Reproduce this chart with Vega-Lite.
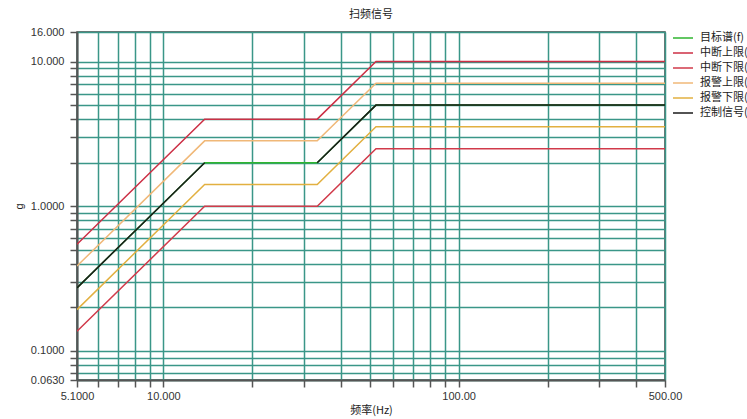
{
  "$schema": "https://vega.github.io/schema/vega-lite/v6.json",
  "width": 588,
  "height": 348,
  "autosize": {"type": "none"},
  "padding": {"left": 77, "top": 32, "right": 82, "bottom": 39},
  "background": "white",
  "title": {"text": "扫频信号", "fontSize": 11, "fontWeight": "normal", "color": "#222", "font": "Noto Sans CJK SC", "offset": 6, "anchor": "middle"},
  "config": {
    "font": "Liberation Sans",
    "view": {"stroke": "#444", "strokeWidth": 1.5},
    "axis": {"labelFontSize": 11, "labelColor": "#333", "titleColor": "#222", "titleFontWeight": "normal", "titleFontSize": 11, "domainColor": "#555", "domainWidth": 2, "tickColor": "#555", "tickWidth": 1.5, "tickSize": 7, "gridColor": "#3a9688", "gridWidth": 1.5, "gridOpacity": 1}
  },
  "data": {"values": [
    {"f": 5.1, "g": 0.273, "series": "目标谱(f)", "seg": "a"},
    {"f": 13.8, "g": 2.0, "series": "目标谱(f)", "seg": "a"},
    {"f": 33.2, "g": 2.0, "series": "目标谱(f)", "seg": "a"},
    {"f": 52.5, "g": 5.0, "series": "目标谱(f)", "seg": "a"},
    {"f": 500, "g": 5.0, "series": "目标谱(f)", "seg": "a"},
    {"f": 5.1, "g": 0.546, "series": "中断上限(f)", "seg": "a"},
    {"f": 13.8, "g": 4.0, "series": "中断上限(f)", "seg": "a"},
    {"f": 33.2, "g": 4.0, "series": "中断上限(f)", "seg": "a"},
    {"f": 52.5, "g": 10.0, "series": "中断上限(f)", "seg": "a"},
    {"f": 500, "g": 10.0, "series": "中断上限(f)", "seg": "a"},
    {"f": 5.1, "g": 0.137, "series": "中断下限(f)", "seg": "a"},
    {"f": 13.8, "g": 1.0, "series": "中断下限(f)", "seg": "a"},
    {"f": 33.2, "g": 1.0, "series": "中断下限(f)", "seg": "a"},
    {"f": 52.5, "g": 2.5, "series": "中断下限(f)", "seg": "a"},
    {"f": 500, "g": 2.5, "series": "中断下限(f)", "seg": "a"},
    {"f": 5.1, "g": 0.386, "series": "报警上限(f)", "seg": "a"},
    {"f": 13.8, "g": 2.83, "series": "报警上限(f)", "seg": "a"},
    {"f": 33.2, "g": 2.83, "series": "报警上限(f)", "seg": "a"},
    {"f": 52.5, "g": 7.07, "series": "报警上限(f)", "seg": "a"},
    {"f": 500, "g": 7.07, "series": "报警上限(f)", "seg": "a"},
    {"f": 5.1, "g": 0.193, "series": "报警下限(f)", "seg": "a"},
    {"f": 13.8, "g": 1.415, "series": "报警下限(f)", "seg": "a"},
    {"f": 33.2, "g": 1.415, "series": "报警下限(f)", "seg": "a"},
    {"f": 52.5, "g": 3.54, "series": "报警下限(f)", "seg": "a"},
    {"f": 500, "g": 3.54, "series": "报警下限(f)", "seg": "a"},
    {"f": 5.1, "g": 0.273, "series": "控制信号(f)", "seg": "a"},
    {"f": 13.8, "g": 2.0, "series": "控制信号(f)", "seg": "a"},
    {"f": 33.2, "g": 2.0, "series": "控制信号(f)", "seg": "b"},
    {"f": 52.5, "g": 5.0, "series": "控制信号(f)", "seg": "b"},
    {"f": 500, "g": 5.0, "series": "控制信号(f)", "seg": "b"}
  ]},
  "mark": {"type": "line", "strokeWidth": 1.5, "clip": true},
  "encoding": {
    "x": {
      "field": "f", "type": "quantitative", "title": "频率(Hz)",
      "scale": {"type": "log", "domain": [5.1, 500], "nice": false},
      "axis": {
        "values": [5.1, 6, 7, 8, 9, 10, 20, 30, 40, 50, 60, 70, 80, 90, 100, 200, 300, 400, 500],
        "labelExpr": "datum.value == 5.1 ? '5.1000' : datum.value == 10 ? '10.000' : datum.value == 100 ? '100.00' : datum.value == 500 ? '500.00' : ''",
        "labelPadding": 3, "titlePadding": 3, "titleFont": "Noto Sans CJK SC", "labelFlush": false, "labelOverlap": false
      }
    },
    "y": {
      "field": "g", "type": "quantitative", "title": "g",
      "scale": {"type": "log", "domain": [0.063, 16], "nice": false},
      "axis": {
        "values": [0.063, 0.07, 0.08, 0.09, 0.1, 0.2, 0.3, 0.4, 0.5, 0.6, 0.7, 0.8, 0.9, 1, 2, 3, 4, 5, 6, 7, 8, 9, 10, 16],
        "labelExpr": "datum.value == 0.063 ? '0.0630' : datum.value == 0.1 ? '0.1000' : datum.value == 1 ? '1.0000' : datum.value == 10 ? '10.000' : datum.value == 16 ? '16.000' : ''",
        "labelPadding": 6, "titlePadding": 6, "labelFlush": false, "labelOverlap": false
      }
    },
    "color": {
      "field": "series", "type": "nominal", "sort": null,
      "scale": {
        "domain": ["目标谱(f)", "中断上限(f)", "中断下限(f)", "报警上限(f)", "报警下限(f)", "控制信号(f)"],
        "range": ["#2fb52f", "#cc2f45", "#d13a4a", "#f0b878", "#e2b040", "#1a1a1a"]
      },
      "legend": {
        "title": null, "orient": "right", "offset": 12, "padding": 0,
        "symbolType": "M-2,0H2", "symbolSize": 100, "symbolStrokeWidth": 1.5,
        "labelFontSize": 11, "labelFont": "Noto Sans CJK SC", "labelColor": "#222", "labelOffset": 11, "rowPadding": 4, "labelLimit": 0
      }
    },
    "detail": {"field": "seg"},
    "order": {"field": "f", "type": "quantitative"}
  }
}
